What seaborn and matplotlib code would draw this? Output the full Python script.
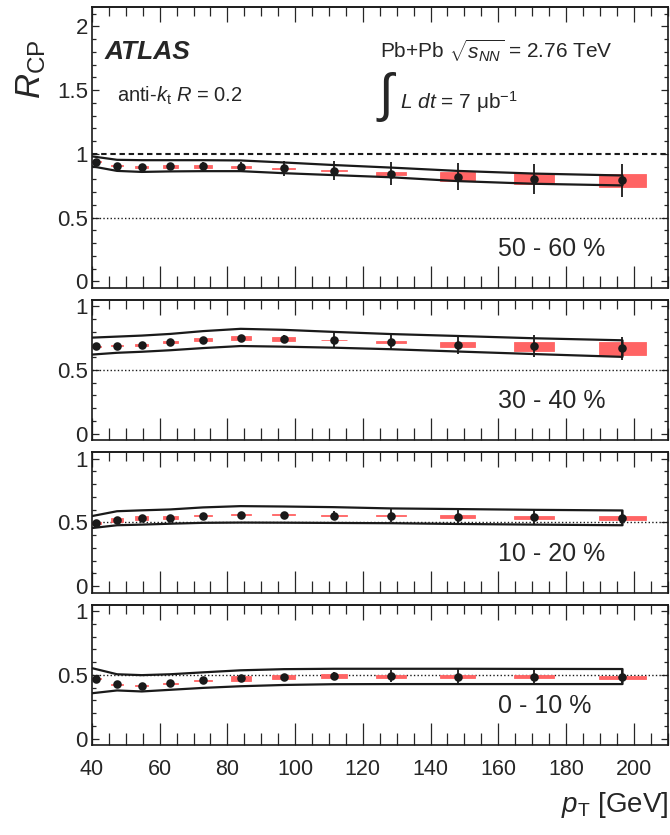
import matplotlib
matplotlib.use('Agg')
import matplotlib.pyplot as plt
from matplotlib.ticker import MultipleLocator, FuncFormatter
import numpy as np
import pandas as pd
import seaborn as sns

# bin centres (GeV) and half widths of the systematic boxes
pt = [41.3, 47.4, 54.7, 63.1, 72.8, 83.9, 96.7, 111.4, 128.3, 148.0, 170.6, 196.7]
box_half = [1.45, 1.65, 1.9, 2.2, 2.55, 2.95, 3.4, 3.9, 4.5, 5.2, 6.0, 6.9]
# x of the envelope (normalisation uncertainty) curves
env_x = [40.0, 47.4, 54.7, 63.1, 72.8, 83.9, 96.7, 111.4, 128.3, 148.0, 170.6, 196.7]

centralities = ['50 - 60 %', '30 - 40 %', '10 - 20 %', '0 - 10 %']

# 50 - 60 %
rcp_5060 = [0.938, 0.907, 0.897, 0.902, 0.902, 0.900, 0.887, 0.869, 0.845, 0.822, 0.804, 0.791]
stat_5060 = [0.012, 0.012, 0.012, 0.022, 0.034, 0.039, 0.060, 0.075, 0.090, 0.108, 0.120, 0.129]
syst_5060 = [0.004, 0.006, 0.008, 0.012, 0.012, 0.008, 0.004, 0.004, 0.013, 0.032, 0.043, 0.052]
up_5060 = [0.980, 0.953, 0.950, 0.950, 0.950, 0.948, 0.932, 0.912, 0.892, 0.866, 0.845, 0.830]
lo_5060 = [0.902, 0.866, 0.858, 0.862, 0.864, 0.864, 0.848, 0.833, 0.816, 0.786, 0.765, 0.752]

# 30 - 40 %
rcp_3040 = [0.688, 0.690, 0.698, 0.717, 0.738, 0.748, 0.744, 0.736, 0.720, 0.700, 0.685, 0.669]
stat_3040 = [0.008, 0.008, 0.010, 0.012, 0.016, 0.028, 0.033, 0.057, 0.056, 0.074, 0.086, 0.087]
syst_3040 = [0.004, 0.005, 0.006, 0.008, 0.012, 0.015, 0.013, 0.003, 0.005, 0.021, 0.036, 0.050]
up_3040 = [0.754, 0.762, 0.770, 0.783, 0.805, 0.823, 0.815, 0.799, 0.782, 0.767, 0.749, 0.733]
lo_3040 = [0.621, 0.635, 0.643, 0.655, 0.672, 0.688, 0.683, 0.675, 0.663, 0.645, 0.625, 0.603]

# 10 - 20 %
rcp_1020 = [0.496, 0.520, 0.533, 0.538, 0.554, 0.560, 0.560, 0.554, 0.554, 0.546, 0.541, 0.536]
stat_1020 = [0.008, 0.008, 0.010, 0.010, 0.012, 0.020, 0.025, 0.038, 0.050, 0.054, 0.056, 0.055]
syst_1020 = [0.006, 0.016, 0.014, 0.010, 0.004, 0.004, 0.003, 0.003, 0.004, 0.014, 0.012, 0.018]
up_1020 = [0.550, 0.588, 0.595, 0.602, 0.618, 0.628, 0.625, 0.620, 0.610, 0.605, 0.599, 0.594]
lo_1020 = [0.456, 0.478, 0.483, 0.490, 0.497, 0.499, 0.498, 0.496, 0.494, 0.488, 0.483, 0.478]

# 0 - 10 %
rcp_0010 = [0.468, 0.428, 0.414, 0.433, 0.457, 0.473, 0.486, 0.494, 0.489, 0.486, 0.486, 0.481]
stat_0010 = [0.010, 0.008, 0.008, 0.010, 0.012, 0.016, 0.020, 0.032, 0.046, 0.058, 0.060, 0.060]
syst_0010 = [0.004, 0.004, 0.004, 0.005, 0.006, 0.017, 0.016, 0.016, 0.012, 0.010, 0.010, 0.013]
up_0010 = [0.553, 0.505, 0.498, 0.505, 0.520, 0.536, 0.545, 0.548, 0.548, 0.548, 0.547, 0.546]
lo_0010 = [0.356, 0.378, 0.370, 0.383, 0.398, 0.411, 0.421, 0.427, 0.428, 0.428, 0.428, 0.428]

panels = [
    (rcp_5060, stat_5060, syst_5060, up_5060, lo_5060),
    (rcp_3040, stat_3040, syst_3040, up_3040, lo_3040),
    (rcp_1020, stat_1020, syst_1020, up_1020, lo_1020),
    (rcp_0010, stat_0010, syst_0010, up_0010, lo_0010),
]

sns.set_theme(style='ticks')
plt.rcParams['font.family'] = ['Liberation Sans', 'DejaVu Sans']
plt.rcParams['mathtext.fontset'] = 'custom'
plt.rcParams['mathtext.rm'] = 'Liberation Sans'
plt.rcParams['mathtext.it'] = 'Liberation Sans:italic'
plt.rcParams['mathtext.bf'] = 'Liberation Sans:bold'

fig, axes = plt.subplots(4, 1, figsize=(6.7, 8.35), dpi=100, sharex=True,
                         gridspec_kw={'height_ratios': [2, 1, 1, 1]})
fig.subplots_adjust(left=0.1373, right=0.9963, top=0.9913, bottom=0.1078, hspace=0.07)

red = '#ff6464'
fmt = FuncFormatter(lambda v, p: '%g' % round(v, 2))

for i, ax in enumerate(axes):
    rcp, stat, syst, up, lo = panels[i]
    rcp = np.array(rcp)
    syst = np.array(syst)

    ax.axhline(0.5, color='k', ls=(0, (1, 1.6)), lw=1.0, zorder=1)
    if i == 0:
        ax.axhline(1.0, color='k', ls=(0, (2.6, 1.8)), lw=1.5, zorder=1)

    # systematic boxes
    ax.bar(pt, 2 * syst, bottom=rcp - syst, width=2 * np.array(box_half),
           color=red, edgecolor=red, linewidth=0.6, zorder=2)

    # envelope curves, closed at the right end
    env = pd.DataFrame({'x': env_x + env_x[::-1], 'y': up + lo[::-1]})
    sns.lineplot(data=env, x='x', y='y', sort=False, estimator=None,
                 color='k', lw=1.6, ax=ax, zorder=3)

    ax.errorbar(pt, rcp, yerr=stat, fmt='none', ecolor='k', elinewidth=1.3,
                capsize=0, zorder=4)
    sns.scatterplot(x=pt, y=rcp, color='k', s=38, edgecolor='k', linewidth=0,
                    ax=ax, zorder=5)

    ax.text(160, 0.2, centralities[i], fontsize=18, ha='left', va='baseline')

    ax.set_xlim(40, 210)
    if i == 0:
        ax.set_ylim(-0.05, 2.15)
    else:
        ax.set_ylim(-0.05, 1.05)
    ax.set_xlabel('')
    ax.set_ylabel('')

    ax.xaxis.set_major_locator(MultipleLocator(20))
    ax.xaxis.set_minor_locator(MultipleLocator(5))
    ax.yaxis.set_major_locator(MultipleLocator(0.5))
    ax.yaxis.set_minor_locator(MultipleLocator(0.1))
    ax.yaxis.set_major_formatter(fmt)

    ax.tick_params(axis='x', which='major', direction='in', length=16, width=0.9,
                   top=False, bottom=True, labelsize=15.5, pad=10)
    ax.tick_params(axis='x', which='minor', direction='in', length=8.5, width=0.9,
                   top=False, bottom=True)
    ax.tick_params(axis='y', which='major', direction='in', length=5, width=0.9,
                   left=True, right=True, labelsize=16, pad=3)
    ax.tick_params(axis='y', which='minor', direction='in', length=3, width=0.9,
                   left=True, right=True)

    top = ax.secondary_xaxis('top')
    top.xaxis.set_major_locator(MultipleLocator(20))
    top.xaxis.set_minor_locator(MultipleLocator(5))
    top.tick_params(which='major', direction='in', length=11, width=0.9, labeltop=False)
    top.tick_params(which='minor', direction='in', length=6.5, width=0.9)

    for s in ax.spines.values():
        s.set_linewidth(1.2)
        s.set_color('k')
    top.spines['top'].set_linewidth(1.2)

axes[-1].xaxis.set_major_formatter(FuncFormatter(lambda v, p: '%d' % v))

# labels in the top panel
a0 = axes[0]
a0.text(43.8, 1.746, 'ATLAS', fontsize=19, fontweight='bold', fontstyle='italic',
        ha='left', va='baseline')
a0.text(47.5, 1.41, r'anti-$k_{\mathrm{t}}$ $R$ = 0.2', fontsize=14.5,
        ha='left', va='baseline')
a0.text(125, 1.746, r'Pb+Pb $\sqrt{s_{NN}}$ = 2.76 TeV', fontsize=15,
        ha='left', va='baseline')
a0.text(124.6, 1.445, '\u222b', fontsize=38, ha='left', va='center')
a0.text(130.9, 1.354, r'$L$ $dt$ = 7 μb$^{\mathrm{-1}}$', fontsize=15,
        ha='left', va='baseline')

fig.text(0.046, 0.917, r'$R_{\mathrm{CP}}$', fontsize=25, rotation=90,
         ha='center', va='center')
fig.text(0.998, 0.028, r'$p_{\mathrm{T}}$ [GeV]', fontsize=20,
         ha='right', va='baseline')

fig.savefig('out.png', dpi=100)
